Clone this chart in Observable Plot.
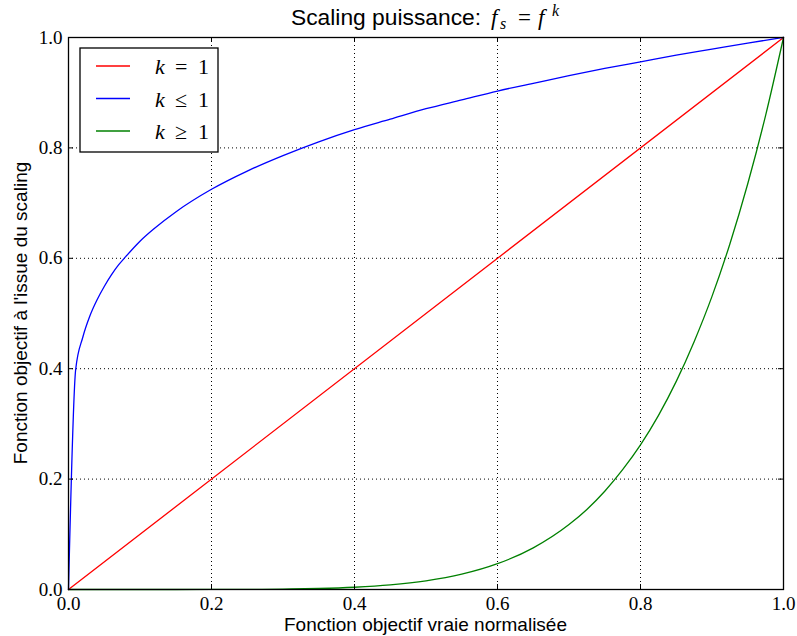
<!DOCTYPE html>
<html>
<head>
<meta charset="utf-8">
<script src="https://cdn.jsdelivr.net/npm/d3@7"></script>
<script src="https://cdn.jsdelivr.net/npm/@observablehq/plot@0.6"></script>
<style>
  html, body { margin: 0; padding: 0; background: #fff; }
  #chart svg { display: block; }
  #chart svg g[aria-label$="tick label"] text {
    font-family: 'Liberation Serif', 'DejaVu Serif', serif !important;
    font-size: 19px !important;
  }
</style>
</head>
<body>
<div id="chart"></div>
<script>
// ---- data ----
const tickValues = [0, 0.2, 0.4, 0.6, 0.8, 1.0];
const gridValues = [0.2, 0.4, 0.6, 0.8];

const xRed = [0, 1];
const yRed = [0, 1];

const xBlue = [0, 0.01, 0.02, 0.03, 0.04, 0.05, 0.06, 0.07, 0.08, 0.1, 0.12, 0.15, 0.2, 0.25, 0.3, 0.35, 0.4, 0.45, 0.5, 0.55, 0.6, 0.65, 0.7, 0.75, 0.8, 0.85, 0.9, 0.95, 1.0];
const yBlue = [0, 0.398, 0.457, 0.496, 0.525, 0.549, 0.570, 0.588, 0.603, 0.631, 0.654, 0.684, 0.725, 0.758, 0.786, 0.811, 0.833, 0.852, 0.871, 0.887, 0.903, 0.917, 0.931, 0.944, 0.956, 0.968, 0.979, 0.990, 1.0];

const xGreen = [0, 0.1, 0.2, 0.25, 0.3, 0.35, 0.4, 0.45, 0.5, 0.55, 0.6, 0.65, 0.7, 0.725, 0.75, 0.775, 0.8, 0.825, 0.85, 0.875, 0.9, 0.925, 0.95, 0.975, 1.0];
const yGreen = [0, 0.000001, 0.00006, 0.00024, 0.0007, 0.0018, 0.0041, 0.0083, 0.0156, 0.0277, 0.0467, 0.0754, 0.1176, 0.145, 0.178, 0.217, 0.262, 0.315, 0.377, 0.449, 0.531, 0.626, 0.735, 0.859, 1.0];

const seriesVar = ["k", "k", "k"];
const seriesOps = ["=", "≤", "≥"];
const seriesRhs = ["1", "1", "1"];
const seriesColors = ["#ff0000", "#0000ff", "#008000"];

const titleText = "Scaling puissance:";
const xLabel = "Fonction objectif vraie normalisée";
const yLabel = "Fonction objectif à l'issue du scaling";

// ---- layout ----
const W = 797, H = 636;
const mL = 68, mR = 14, mT = 37, mB = 47;
const pw = W - mL - mR, ph = H - mT - mB;
const tickLen = 5;
const serif = "'Liberation Serif', 'DejaVu Serif', serif";
const sans = "'Liberation Sans', Arial, sans-serif";

const toRows = (xs, ys) => xs.map((x, i) => ({x, y: ys[i]}));

const plot = Plot.plot({
  width: W, height: H,
  marginLeft: mL, marginRight: mR, marginTop: mT, marginBottom: mB,
  x: {domain: [0, 1]},
  y: {domain: [0, 1]},
  style: {background: "#fff", color: "#000", fontFamily: serif, fontSize: "19px"},
  marks: [
    Plot.gridX(gridValues, {stroke: "#000", strokeOpacity: 1, strokeWidth: 1, strokeDasharray: "1,3"}),
    Plot.gridY(gridValues, {stroke: "#000", strokeOpacity: 1, strokeWidth: 1, strokeDasharray: "1,3"}),
    Plot.line(toRows(xRed, yRed), {x: "x", y: "y", stroke: seriesColors[0], strokeWidth: 1.3}),
    Plot.line(toRows(xBlue, yBlue), {x: "x", y: "y", stroke: seriesColors[1], strokeWidth: 1.3, curve: "monotone-x"}),
    Plot.line(toRows(xGreen, yGreen), {x: "x", y: "y", stroke: seriesColors[2], strokeWidth: 1.3, curve: "monotone-x"}),
    // inward ticks on all sides
    Plot.ruleX(tickValues, {stroke: "#000", insetTop: ph - tickLen}),
    Plot.ruleX(tickValues, {stroke: "#000", insetBottom: ph - tickLen}),
    Plot.ruleY(tickValues, {stroke: "#000", insetRight: pw - tickLen}),
    Plot.ruleY(tickValues, {stroke: "#000", insetLeft: pw - tickLen}),
    Plot.axisX(tickValues, {tickSize: 0, tickPadding: 7, tickFormat: d3.format(".1f"), fontSize: 19, fontFamily: serif, label: null}),
    Plot.axisY(tickValues, {tickSize: 0, tickPadding: 6, tickFormat: d3.format(".1f"), fontSize: 19, fontFamily: serif, label: null}),
    Plot.frame({stroke: "#000", strokeWidth: 1.3})
  ]
});

document.getElementById("chart").appendChild(plot);
const svg = d3.select(plot);

// title with math
const t = svg.append("text")
  .attr("x", 291).attr("y", 25)
  .attr("text-anchor", "start")
  .attr("font-family", sans).attr("font-size", 22.8).attr("fill", "#000");
t.append("tspan").text(titleText);
const mathStyle = (s) => s.attr("font-family", serif);
mathStyle(t.append("tspan")).attr("x", 491).attr("font-style", "italic").attr("font-size", 23).text("f");
mathStyle(t.append("tspan")).attr("x", 500).attr("dy", 4).attr("font-style", "italic").attr("font-size", 16).text("s");
mathStyle(t.append("tspan")).attr("x", 518).attr("dy", -4).attr("font-size", 23).text("=");
mathStyle(t.append("tspan")).attr("x", 538).attr("font-style", "italic").attr("font-size", 23).text("f");
mathStyle(t.append("tspan")).attr("x", 552).attr("dy", -9).attr("font-style", "italic").attr("font-size", 16).text("k");

// axis labels
svg.append("text")
  .attr("x", mL + pw / 2).attr("y", 631)
  .attr("text-anchor", "middle")
  .attr("font-family", sans).attr("font-size", 19).attr("fill", "#000")
  .text(xLabel);
svg.append("text")
  .attr("transform", `translate(27,${mT + ph / 2}) rotate(-90)`)
  .attr("text-anchor", "middle")
  .attr("font-family", sans).attr("font-size", 19).attr("fill", "#000")
  .text(yLabel);

// legend
const lg = svg.append("g");
lg.append("rect")
  .attr("x", 80).attr("y", 48).attr("width", 138).attr("height", 104)
  .attr("fill", "#fff").attr("stroke", "#000").attr("stroke-width", 1.3);
seriesColors.forEach((c, i) => {
  const yy = 66 + i * 32.5;
  lg.append("line")
    .attr("x1", 96).attr("x2", 130).attr("y1", yy).attr("y2", yy)
    .attr("stroke", c).attr("stroke-width", 1.3);
  const tx = lg.append("text")
    .attr("y", yy + 8)
    .attr("text-anchor", "start")
    .attr("font-family", serif).attr("font-size", 22).attr("fill", "#000");
  tx.append("tspan").attr("x", 155).attr("font-style", "italic").text(seriesVar[i]);
  tx.append("tspan").attr("x", 175).text(seriesOps[i]);
  tx.append("tspan").attr("x", 198).text(seriesRhs[i]);
});
</script>
</body>
</html>
